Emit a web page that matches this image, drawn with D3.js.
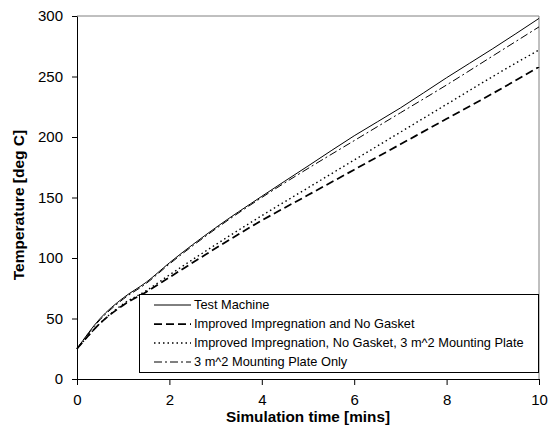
<!DOCTYPE html>
<html>
<head>
<meta charset="utf-8">
<script src="https://cdn.jsdelivr.net/npm/d3@7"></script>
<style>
  body { margin: 0; background: #fff; }
  text { font-family: "Liberation Sans", Arial, sans-serif; fill: #000; }
</style>
</head>
<body>
<div id="container"></div>
<script>
// simulation time [mins]
const times = [0, 0.5, 1, 1.5, 2, 3, 4, 5, 6, 7, 8, 9, 10];

// temperature [deg C] per configuration
const testMachine      = [25, 50, 67, 80, 96, 125, 151, 176, 201, 224, 249, 273, 298];
const improvedNoGasket = [25, 46, 61, 72, 84, 108, 131, 152, 173, 194, 215, 236, 258];
const improvedPlate    = [25, 46, 62, 73, 86, 111, 135, 158, 181, 204, 227, 250, 272];
const plateOnly        = [25, 49, 66, 79, 95, 124, 150, 174, 197, 220, 243, 267, 291];

const seriesNames = [
    "Test Machine",
    "Improved Impregnation and No Gasket",
    "Improved Impregnation, No Gasket, 3 m^2 Mounting Plate",
    "3 m^2 Mounting Plate Only"
];

const xTicks = [0, 2, 4, 6, 8, 10];
const yTicks = [0, 50, 100, 150, 200, 250, 300];

const width = 548;
const height = 425;

const svg = d3.select("#container").append("svg")
    .attr("width", width)
    .attr("height", height);

const x = d3.scaleLinear().domain([0, 10]).range([77, 539]);
const y = d3.scaleLinear().domain([0, 300]).range([379, 16]);

// line styles, one per series
const styles = [
    { width: 1, dash: null },
    { width: 1.75, dash: "8,4" },
    { width: 1.4, dash: "1.5,3" },
    { width: 1, dash: "8,3,2,3" }
];

const series = [testMachine, improvedNoGasket, improvedPlate, plateOnly].map((vals, i) => ({
    name: seriesNames[i],
    style: styles[i],
    points: times.map((t, j) => ({ t: t, v: vals[j] }))
}));

// plot area frame (top and right in grey)
svg.append("path")
    .attr("d", `M${x(0)},${y(300)}H${x(10)}V${y(0)}`)
    .attr("fill", "none")
    .attr("stroke", "#808080")
    .attr("stroke-width", 1);

const line = d3.line()
    .x(d => x(d.t))
    .y(d => y(d.v))
    .curve(d3.curveMonotoneX);

svg.append("g")
    .selectAll("path")
    .data(series)
    .enter().append("path")
    .attr("fill", "none")
    .attr("stroke", "#000")
    .attr("stroke-width", d => d.style.width)
    .attr("stroke-dasharray", d => d.style.dash)
    .attr("d", d => line(d.points));

// axes
svg.append("g")
    .attr("transform", `translate(0,${y(0)})`)
    .call(d3.axisBottom(x).tickValues(xTicks).tickSize(6).tickSizeOuter(0).tickPadding(9))
    .call(g => g.selectAll("text").style("font-size", "15px").attr("font-family", null))
    .call(g => g.selectAll("line, path").attr("stroke", "#000"));

svg.append("g")
    .attr("transform", `translate(${x(0)},0)`)
    .call(d3.axisLeft(y).tickValues(yTicks).tickSize(5).tickSizeOuter(0).tickPadding(9))
    .call(g => g.selectAll("text").style("font-size", "15px").attr("font-family", null))
    .call(g => g.selectAll("line, path").attr("stroke", "#000"));

// axis labels
svg.append("text")
    .attr("x", (x(0) + x(10)) / 2)
    .attr("y", 422)
    .attr("text-anchor", "middle")
    .style("font-size", "15.3px")
    .style("font-weight", "bold")
    .text("Simulation time [mins]");

svg.append("text")
    .attr("transform", "translate(24,205) rotate(-90)")
    .attr("text-anchor", "middle")
    .style("font-size", "15.5px")
    .style("font-weight", "bold")
    .text("Temperature [deg C]");

// legend
const legend = svg.append("g");
legend.append("rect")
    .attr("x", 139.5)
    .attr("y", 294.5)
    .attr("width", 399)
    .attr("height", 78)
    .attr("fill", "#fff")
    .attr("stroke", "#000")
    .attr("stroke-width", 1);

const item = legend.selectAll("g.item")
    .data(series)
    .enter().append("g")
    .attr("class", "item")
    .attr("transform", (d, i) => `translate(0,${305 + i * 19})`);

item.append("line")
    .attr("x1", 154).attr("x2", 191)
    .attr("y1", 0).attr("y2", 0)
    .attr("stroke", "#000")
    .attr("stroke-width", d => d.style.width)
    .attr("stroke-dasharray", d => d.style.dash);

item.append("text")
    .attr("x", 194)
    .attr("dy", "0.35em")
    .style("font-size", "12.8px")
    .text(d => d.name);
</script>
</body>
</html>
